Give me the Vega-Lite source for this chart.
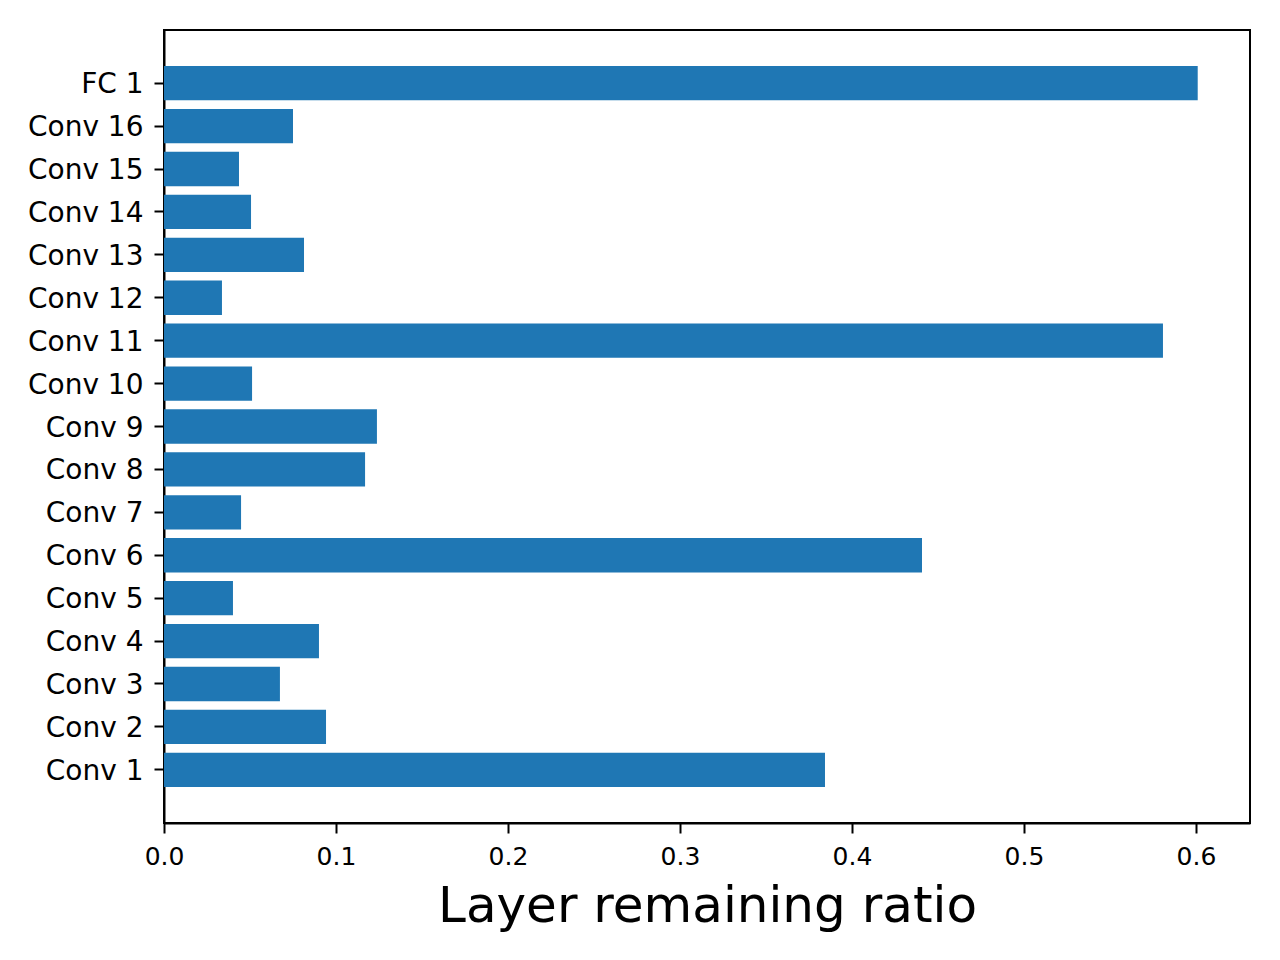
{
  "$schema": "https://vega.github.io/schema/vega-lite/v6.json",
  "width": 1086,
  "height": 793,
  "autosize": {"type": "none"},
  "padding": {"left": 164, "top": 30, "right": 30, "bottom": 137},
  "background": "white",
  "config": {
    "font": "DejaVu Sans",
    "view": {"stroke": "black", "strokeWidth": 2},
    "axis": {
      "grid": false,
      "domainColor": "black",
      "domainWidth": 2,
      "tickColor": "black",
      "tickWidth": 2,
      "tickSize": 10,
      "labelColor": "black",
      "titleColor": "black",
      "labelFont": "DejaVu Sans",
      "titleFont": "DejaVu Sans"
    }
  },
  "data": {
    "values": [
      {"layer": "Conv 1", "ratio": 0.3843},
      {"layer": "Conv 2", "ratio": 0.0942},
      {"layer": "Conv 3", "ratio": 0.0674},
      {"layer": "Conv 4", "ratio": 0.0901},
      {"layer": "Conv 5", "ratio": 0.0401},
      {"layer": "Conv 6", "ratio": 0.4407},
      {"layer": "Conv 7", "ratio": 0.0448},
      {"layer": "Conv 8", "ratio": 0.1169},
      {"layer": "Conv 9", "ratio": 0.1238},
      {"layer": "Conv 10", "ratio": 0.0512},
      {"layer": "Conv 11", "ratio": 0.5808},
      {"layer": "Conv 12", "ratio": 0.0337},
      {"layer": "Conv 13", "ratio": 0.0814},
      {"layer": "Conv 14", "ratio": 0.0506},
      {"layer": "Conv 15", "ratio": 0.0436},
      {"layer": "Conv 16", "ratio": 0.075},
      {"layer": "FC 1", "ratio": 0.601}
    ]
  },
  "mark": {"type": "bar", "color": "#1f77b4"},
  "encoding": {
    "y": {
      "field": "layer",
      "type": "nominal",
      "sort": ["FC 1", "Conv 16", "Conv 15", "Conv 14", "Conv 13", "Conv 12", "Conv 11", "Conv 10", "Conv 9", "Conv 8", "Conv 7", "Conv 6", "Conv 5", "Conv 4", "Conv 3", "Conv 2", "Conv 1"],
      "scale": {"paddingInner": 0.2, "paddingOuter": 0.84},
      "axis": {"title": null, "labelFontSize": 28, "labelPadding": 11, "labelOffset": 2}
    },
    "x": {
      "field": "ratio",
      "type": "quantitative",
      "scale": {"domain": [0, 0.6314], "nice": false, "zero": true},
      "axis": {
        "title": "Layer remaining ratio",
        "titleFontSize": 50,
        "titleFontWeight": "normal",
        "titlePadding": 12,
        "labelFontSize": 25,
        "labelPadding": 11,
        "values": [0, 0.1, 0.2, 0.3, 0.4, 0.5, 0.6],
        "format": ".1f",
        "labelFlush": false
      }
    }
  }
}
